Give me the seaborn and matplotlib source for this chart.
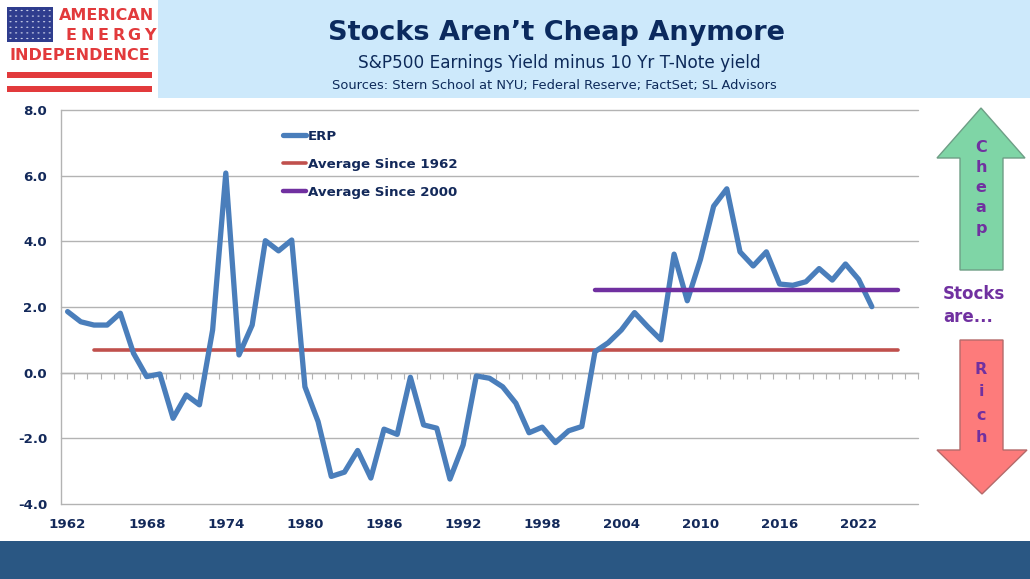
import matplotlib
matplotlib.use("Agg")
import matplotlib.pyplot as plt
import matplotlib.patches as mpatches
from matplotlib.lines import Line2D
import seaborn as sns
import pandas as pd
import numpy as np

# ---------------- data ----------------
years = list(range(1962, 2024))
erp = [1.86, 1.55, 1.45, 1.45, 1.81, 0.59, -0.12, -0.04, -1.39, -0.68,
       -0.98, 1.30, 6.08, 0.54, 1.45, 4.02, 3.71, 4.04, -0.43, -1.49,
       -3.16, -3.03, -2.37, -3.21, -1.72, -1.88, -0.14, -1.59, -1.69, -3.24,
       -2.20, -0.10, -0.17, -0.43, -0.93, -1.83, -1.66, -2.13, -1.77, -1.64,
       0.64, 0.91, 1.30, 1.83, 1.40, 1.00, 3.61, 2.19, 3.45, 5.07,
       5.60, 3.68, 3.25, 3.68, 2.70, 2.66, 2.77, 3.17, 2.82, 3.31,
       2.84, 2.01]
avg_1962_value = 0.69
avg_1962_span = [1964, 2025]
avg_2000_value = 2.52
avg_2000_span = [2002, 2025]
category_range = [1962, 2026]
x_tick_years = list(range(1962, 2023, 6))
y_ticks = [-4.0, -2.0, 0.0, 2.0, 4.0, 6.0, 8.0]
series_names = ["ERP", "Average Since 1962", "Average Since 2000"]

title = "Stocks Aren\u2019t Cheap Anymore"
subtitle = "S&P500 Earnings Yield minus 10 Yr T-Note yield"
sources = "Sources: Stern School at NYU; Federal Reserve; FactSet; SL Advisors"

# ---------------- style ----------------
sns.set_theme(style="white")
plt.rcParams['font.family'] = ['DejaVu Sans']

W, H = 1030, 579
fig = plt.figure(figsize=(W / 100, H / 100), dpi=100)
fig.patch.set_facecolor("white")

def fx(x):
    return x / W

def fy(y):
    return 1 - y / H

NAVY = "#13295a"
BLUE = "#4a7ebb"
RED = "#c0504d"
PURPLE = "#7030a0"
GRID = "#b3b3b3"

# header band
fig.patches.append(mpatches.Rectangle((fx(158), fy(98)), fx(W - 158), 98 / H,
                                      transform=fig.transFigure, facecolor="#cde9fb",
                                      edgecolor="none", zorder=0))
# bottom band
fig.patches.append(mpatches.Rectangle((0, 0), 1, fy(541),
                                      transform=fig.transFigure, facecolor="#2a5783",
                                      edgecolor="none", zorder=0))

fig.text(fx(556), fy(33), title, ha="center", va="center", fontsize=19.5,
         fontweight="bold", color="#0b2a5e")
fig.text(fx(559), fy(63), subtitle, ha="center", va="center", fontsize=12.2,
         color="#0d2a5a")
fig.text(fx(554), fy(85), sources, ha="center", va="center", fontsize=9.4,
         color="#0d2a5a")

# ---------------- logo ----------------
LRED = "#e23a3c"
fig.patches.append(mpatches.Rectangle((fx(7), fy(42)), fx(46), 35 / H,
                                      transform=fig.transFigure, facecolor="#2f3d8e",
                                      edgecolor="none"))
for r in range(6):
    for c in range(8):
        fig.patches.append(mpatches.Circle((fx(10.5 + c * 5.6), fy(10.5 + r * 5.6)), 0.0011,
                                           transform=fig.transFigure, facecolor="#c9cfe8",
                                           edgecolor="none"))
fig.text(fx(107), fy(16), "AMERICAN", ha="center", va="center", fontsize=11.5,
         fontweight="bold", color=LRED)
for i, ch in enumerate("ENERGY"):
    fig.text(fx(71 + i * 15.8), fy(36), ch, ha="center", va="center", fontsize=11.5,
             fontweight="bold", color=LRED)
fig.text(fx(79.5), fy(56), "INDEPENDENCE", ha="center", va="center", fontsize=11.5,
         fontweight="bold", color=LRED)
for yy in (72, 86):
    fig.patches.append(mpatches.Rectangle((fx(7), fy(yy + 5.5)), fx(145), 5.5 / H,
                                          transform=fig.transFigure, facecolor=LRED,
                                          edgecolor="none"))

# ---------------- chart ----------------
ax = fig.add_axes([fx(61), fy(504), fx(918 - 61), (504 - 110) / H])
ax.set_facecolor("white")

df = pd.DataFrame({"year": years, "value": erp})
avg1 = pd.DataFrame({"year": avg_1962_span, "value": [avg_1962_value] * 2})
avg2 = pd.DataFrame({"year": avg_2000_span, "value": [avg_2000_value] * 2})

sns.lineplot(data=avg1, x="year", y="value", ax=ax, color=RED, linewidth=2.6,
             solid_capstyle="round", zorder=3)
sns.lineplot(data=df, x="year", y="value", ax=ax, color=BLUE, linewidth=3.8,
             solid_capstyle="round", solid_joinstyle="round", zorder=4)
sns.lineplot(data=avg2, x="year", y="value", ax=ax, color=PURPLE, linewidth=3.2,
             solid_capstyle="round", zorder=5)

ax.set_xlim(category_range[0] - 0.5, category_range[1] + 0.5)
ax.set_ylim(y_ticks[0], y_ticks[-1])
ax.set_yticks(y_ticks)
ax.set_yticklabels([f"{v:.1f}" for v in y_ticks])
ax.set_xticks(x_tick_years)
ax.set_xticklabels([str(y) for y in x_tick_years])
ax.set_xlabel("")
ax.set_ylabel("")

for v in y_ticks:
    ax.axhline(v, color=GRID, linewidth=1.0, zorder=1, clip_on=False)

for s in ["top", "right", "bottom"]:
    ax.spines[s].set_visible(False)
ax.spines["left"].set_color(GRID)
ax.spines["left"].set_linewidth(1.0)

ax.tick_params(axis="y", which="major", length=4, width=1.0, color=GRID, direction="out",
               pad=6, labelsize=9.6, labelcolor=NAVY)
ax.tick_params(axis="x", which="major", length=0, pad=10, labelsize=9.6, labelcolor=NAVY)
for lab in ax.get_xticklabels() + ax.get_yticklabels():
    lab.set_fontweight("bold")

# category tick marks on the zero line
sec = ax.secondary_xaxis((0 - y_ticks[0]) / (y_ticks[-1] - y_ticks[0]))
sec.set_xticks(np.arange(category_range[0] - 0.5, category_range[1] + 0.6, 1.0))
sec.set_xticklabels([])
sec.tick_params(axis="x", length=4, width=0.8, color=GRID, direction="out")
sec.spines["bottom"].set_color(GRID)
sec.spines["bottom"].set_linewidth(1.0)
for s in ["top", "left", "right"]:
    sec.spines[s].set_visible(False)

# legend
handles = [Line2D([0], [0], color=BLUE, linewidth=3.8, solid_capstyle="round"),
           Line2D([0], [0], color=RED, linewidth=2.6, solid_capstyle="round"),
           Line2D([0], [0], color=PURPLE, linewidth=3.2, solid_capstyle="round")]
leg = ax.legend(handles, series_names, loc="upper left",
                bbox_to_anchor=(fx(283), fy(130)), bbox_transform=fig.transFigure,
                frameon=False, handlelength=1.7, handletextpad=0.15, labelspacing=1.12,
                borderaxespad=0, borderpad=0, prop={"weight": "bold", "size": 9.6})
for t in leg.get_texts():
    t.set_color(NAVY)

# ---------------- right-side arrows ----------------
GREEN_F = "#7fd5a6"
GREEN_E = "#6e9e86"
RED_F = "#fd7b7b"
RED_E = "#b46a6a"
up = [(981, 108), (1025, 158), (1003, 158), (1003, 270), (960, 270), (960, 158), (937, 158)]
down = [(960, 340), (1003, 340), (1003, 450), (1027, 450), (982, 494), (937, 450), (960, 450)]
fig.patches.append(mpatches.Polygon([(fx(a), fy(b)) for a, b in up], closed=True,
                                    transform=fig.transFigure, facecolor=GREEN_F,
                                    edgecolor=GREEN_E, linewidth=1.0))
fig.patches.append(mpatches.Polygon([(fx(a), fy(b)) for a, b in down], closed=True,
                                    transform=fig.transFigure, facecolor=RED_F,
                                    edgecolor=RED_E, linewidth=1.0))
for i, ch in enumerate("Cheap"):
    fig.text(fx(981), fy(148 + i * 20), ch, ha="center", va="center", fontsize=11.5,
             fontweight="bold", color=PURPLE)
for i, ch in enumerate("Rich"):
    fig.text(fx(981), fy(369 + i * 23), ch, ha="center", va="center", fontsize=11.5,
             fontweight="bold", color=PURPLE)
fig.text(fx(943), fy(294), "Stocks", ha="left", va="center", fontsize=12,
         fontweight="bold", color=PURPLE)
fig.text(fx(943), fy(317), "are...", ha="left", va="center", fontsize=12,
         fontweight="bold", color=PURPLE)

fig.savefig("out.png", dpi=100, facecolor=fig.get_facecolor())
